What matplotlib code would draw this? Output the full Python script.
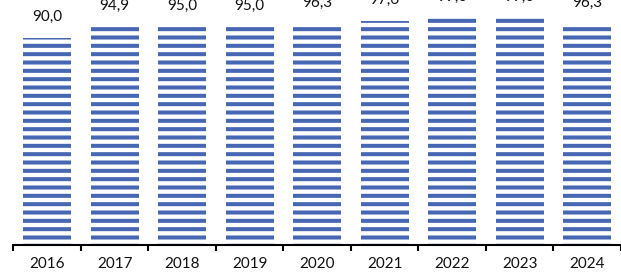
import matplotlib
matplotlib.use('Agg')
import matplotlib.pyplot as plt
from matplotlib.ticker import FixedLocator

# chart values
years = ['2016', '2017', '2018', '2019', '2020', '2021', '2022', '2023', '2024']
values = [90.0, 94.9, 95.0, 95.0, 96.3, 97.6, 99.0, 99.0, 96.3]

bar_color = '#4767b4'

plt.rcParams['font.family'] = ['Lato', 'DejaVu Sans']
plt.rcParams['hatch.linewidth'] = 2.9

fig = plt.figure(figsize=(6.21, 2.73), dpi=100)
# axes spans from left axis hook to the right edge, spine at y ~245 px
ax = fig.add_axes([13.3 / 621, (273 - 245) / 273, 607.5 / 621, 245 / 273])

x = list(range(len(years)))
bars = ax.bar(x, values, width=0.71, facecolor='white', edgecolor=bar_color,
              linewidth=0, hatch='--')

labels = ['{:.1f}'.format(v).replace('.', ',') for v in values]
ax.bar_label(bars, labels=labels, padding=10, fontsize=11, color='#111111')

ax.set_xlim(-0.5, len(years) - 0.5)
ax.set_ylim(0, 245 / 2.3)

for side in ['left', 'right', 'top']:
    ax.spines[side].set_visible(False)
ax.spines['bottom'].set_linewidth(1.5)
ax.spines['bottom'].set_color('black')
ax.yaxis.set_visible(False)

# tick marks sit on the category boundaries, labels on the centres
ax.xaxis.set_major_locator(FixedLocator([i - 0.5 for i in range(len(years) + 1)]))
ax.xaxis.set_minor_locator(FixedLocator(x))
ax.set_xticklabels([], minor=False)
ax.set_xticks(x, years, minor=True)
ax.tick_params(axis='x', which='major', direction='out', length=4, width=1.5,
               color='black')
ax.tick_params(axis='x', which='minor', length=0, pad=9, labelsize=11,
               labelcolor='#111111')

fig.savefig('out.png', dpi=100)
